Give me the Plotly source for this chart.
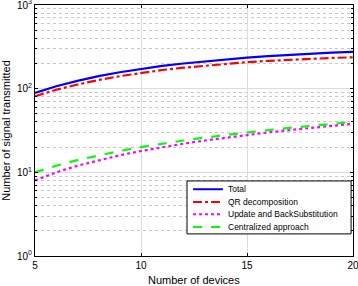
import plotly.graph_objects as go

devices = list(range(5, 21))
total = [89, 107, 124, 141, 157, 173, 187, 200, 212, 224, 235, 245, 254, 262, 269, 275]
qr = [81, 97, 112, 127, 141, 155, 167, 178, 188, 198, 207, 215, 222, 228, 233, 237]
update = [8, 10, 12, 14, 16, 18, 20, 22, 24, 26, 28, 30, 32, 34, 36, 38]
central = [10, 12, 14, 16, 18, 20, 22, 24, 26, 28, 30, 32, 34, 36, 38, 40]

series = [
    ("Total", total, "#0000ff", "solid"),
    ("QR decomposition", qr, "#ff0000", "dashdot"),
    ("Update and BackSubstitution", update, "#ff00ff", "dot"),
    ("Centralized approach", central, "#00ff00", "dash"),
]

minor_vals = [m * 10 ** e for e in range(0, 3) for m in range(2, 10)]

fig = go.Figure()
for name, vals, color, dash in series:
    fig.add_trace(go.Scatter(x=devices, y=vals, name=name, mode="lines",
                             line=dict(color=color, width=2.2, dash=dash),
                             showlegend=False))

font = "Liberation Sans, Arial, sans-serif"

# compact legend box (paper coordinates of plot area)
fig.add_shape(type="rect", xref="paper", yref="paper", x0=0.478, x1=0.994, y0=0.088, y1=0.299,
              line=dict(color="black", width=1), fillcolor="white", layer="above")
row_y = [0.266, 0.215, 0.166, 0.1155]
for (name, vals, color, dash), ry in zip(series, row_y):
    fig.add_shape(type="line", xref="paper", yref="paper", x0=0.497, x1=0.591, y0=ry, y1=ry,
                  line=dict(color=color, width=2, dash=dash), layer="above")
    fig.add_annotation(xref="paper", yref="paper", x=0.600, y=ry, text=name, showarrow=False,
                       xanchor="left", yanchor="middle", font=dict(size=8.5, family=font))

fig.add_annotation(xref="paper", yref="paper", x=0.5, y=-0.097, text="Number of devices",
                   showarrow=False, xanchor="center", yanchor="middle", font=dict(size=11, family=font))

fig.update_layout(
    width=358, height=286,
    margin=dict(l=35, r=5, t=5, b=30),
    paper_bgcolor="white", plot_bgcolor="white",
    font=dict(family=font, size=10, color="black"),
    showlegend=False,
    xaxis=dict(range=[5, 20], tickvals=[5, 10, 15, 20], automargin=False,
               showgrid=True, gridcolor="#dcdcdc", gridwidth=1,
               ticks="inside", ticklen=3, tickcolor="black",
               showline=True, linecolor="black", linewidth=1, mirror="ticks",
               zeroline=False, ticklabeloverflow="allow",
               tickfont=dict(size=10)),
    yaxis=dict(type="log", range=[0, 3], tickvals=[1, 10, 100, 1000], automargin=False,
               ticktext=["10<sup>0</sup>", "10<sup>1</sup>", "10<sup>2</sup>", "10<sup>3</sup>"],
               showgrid=True, gridcolor="#dcdcdc", gridwidth=1,
               ticks="inside", ticklen=3, tickcolor="black",
               showline=True, linecolor="black", linewidth=1, mirror="ticks",
               zeroline=False, ticklabeloverflow="allow",
               minor=dict(tickmode="array", tickvals=minor_vals,
                          ticks="inside", ticklen=2, tickcolor="black",
                          showgrid=True, gridcolor="#c8c8c8", griddash="dot", gridwidth=1),
               title=dict(text="Number of signal transmitted", font=dict(size=11), standoff=4),
               tickfont=dict(size=10)),
)

fig.write_html("out.html", config={"displayModeBar": False},
               post_script="document.body.style.margin='0';")
